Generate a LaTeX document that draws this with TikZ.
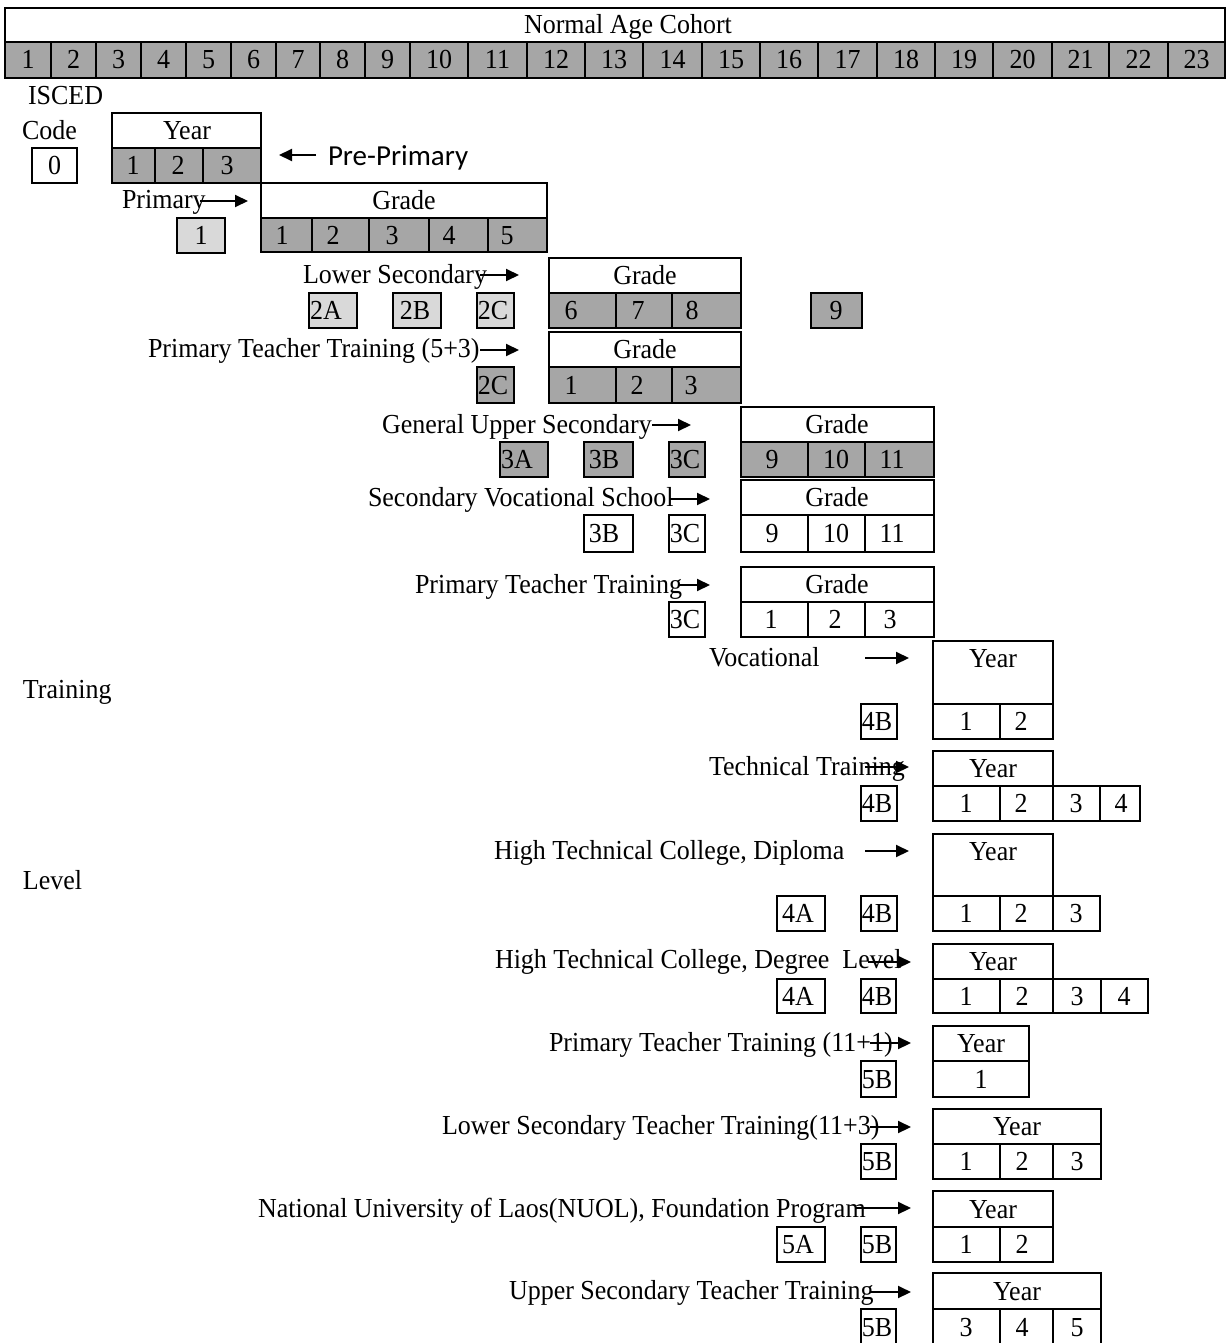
\documentclass[tikz,border=0pt]{standalone}
\usepackage{fontspec}
\setmainfont{Liberation Serif}[FakeStretch=0.945]
\newfontfamily\calibfont{Carlito}
\usetikzlibrary{arrows.meta}
\definecolor{dkg}{HTML}{A6A6A6}
\definecolor{ltg}{HTML}{D9D9D9}
% name, x1, y1, x2, y2, fill style, text, text centre x, raise of baseline from box centre
\newcommand\bx[9]{%
  \node[cellbox,#6,minimum width={#4pt-#2pt},minimum height={#5pt-#3pt},anchor=north west] (#1) at (#2,#3)
  {\makebox[\dimexpr#4pt-#2pt\relax][l]{\hspace*{\dimexpr#8pt-#2pt\relax}\makebox[0pt][c]{\raisebox{#9pt}[0pt][0pt]{#7}}}};}
\begin{document}
\begin{tikzpicture}[x=1pt,y=-1pt,
  every node/.style={font=\fontsize{27.5}{31}\selectfont,inner sep=0pt,outer sep=0pt},
  cellbox/.style={draw=black,line width=1.6pt},
  dkfill/.style={fill=dkg},
  ltfill/.style={fill=ltg},
  wtfill/.style={fill=white},
  lbl/.style={anchor=base west},
  arr/.style={line width=2pt,-{Triangle[length=13pt,width=12pt]}}]
\fill[white] (0,0) rectangle (1226,1343);
\useasboundingbox (0,0) rectangle (1226,1343);

% ---- top bar
\bx{hdr}{5}{8}{1225}{42}{wtfill}{Normal Age Cohort}{628}{-9}
\foreach \ii/\xa/\xb/\xc in {1/5/51/28,2/51/96/73.5,3/96/141/118.5,4/141/186/163.5,5/186/231/208.5,
  6/231/276/253.5,7/276/320/298,8/320/365/342.5,9/365/410/387.5,10/410/468/439,11/468/527/497.5,
  12/527/585/556,13/585/643/614,14/643/702/672.5,15/702/760/731,16/760/818/789,17/818/877/847.5,
  18/877/935/906,19/935/993/964,20/993/1052/1022.5,21/1052/1109/1080.5,22/1109/1168/1138.5,
  23/1168/1225/1196.5}
  {\bx{age\ii}{\xa}{42}{\xb}{78}{dkfill}{\ii}{\xc}{-9}}

% ---- left labels
\node[lbl] (tisced) at (28,105) {ISCED};
\node[lbl] (tcode) at (22,140) {Code};
\node[lbl] (ttraining) at (23,698) {Training};
\node[lbl] (tlevel) at (23,889) {Level};

% ---- pre-primary
\bx{zero}{32}{148}{77}{183}{wtfill}{0}{54.5}{-9}
\bx{yhdr0}{112}{113}{261}{148}{wtfill}{Year}{187}{-9}
\bx{y0a}{112}{148}{155}{183}{dkfill}{1}{133}{-9}
\bx{y0b}{155}{148}{203}{183}{dkfill}{2}{178}{-9}
\bx{y0c}{203}{148}{261}{183}{dkfill}{3}{227}{-9}
\node[lbl,font=\calibfont\fontsize{29}{33}\selectfont] (tpre) at (328,166) {Pre-Primary};
\coordinate (apre1) at (316,155); \coordinate (apre2) at (279,155);
\draw[arr] (apre1) -- (apre2);

% ---- primary
\node[lbl] (tprim) at (122,208) {Primary};
\coordinate (aprim1) at (200,201); \coordinate (aprim2) at (248,201);
\draw[arr] (aprim1) -- (aprim2);
\bx{cprim}{177}{218}{225}{253}{ltfill}{1}{201}{-9}
\bx{ghdr1}{261}{183}{547}{218}{wtfill}{Grade}{404}{-9}
\bx{g1a}{261}{218}{312}{252}{dkfill}{1}{282}{-9}
\bx{g1b}{312}{218}{369}{252}{dkfill}{2}{333}{-9}
\bx{g1c}{369}{218}{429}{252}{dkfill}{3}{392}{-9}
\bx{g1d}{429}{218}{488}{252}{dkfill}{4}{449}{-9}
\bx{g1e}{488}{218}{547}{252}{dkfill}{5}{507}{-9}

% ---- lower secondary
\node[lbl] (tlsec) at (303,283) {Lower Secondary};
\coordinate (alsec1) at (480,275); \coordinate (alsec2) at (519,275);
\draw[arr] (alsec1) -- (alsec2);
\bx{ghdr2}{549}{258}{741}{293}{wtfill}{Grade}{645}{-9}
\bx{g2a}{549}{293}{616}{328}{dkfill}{6}{571}{-9}
\bx{g2b}{616}{293}{672}{328}{dkfill}{7}{638}{-9}
\bx{g2c}{672}{293}{741}{328}{dkfill}{8}{692}{-9}
\bx{g2d}{811}{293}{862}{328}{dkfill}{9}{836}{-9}
\bx{c2A}{309}{293}{357}{328}{ltfill}{2A}{326}{-9}
\bx{c2B}{393}{293}{441}{328}{ltfill}{2B}{415}{-9}
\bx{c2C}{477}{293}{514}{328}{ltfill}{2C}{493}{-9}

% ---- primary teacher training (5+3)
\node[lbl] (tptta) at (148,357) {Primary Teacher Training (5+3)};
\coordinate (aptta1) at (480,350); \coordinate (aptta2) at (519,350);
\draw[arr] (aptta1) -- (aptta2);
\bx{ghdr3}{549}{332}{741}{367}{wtfill}{Grade}{645}{-9}
\bx{g3a}{549}{367}{616}{403}{dkfill}{1}{571}{-9}
\bx{g3b}{616}{367}{672}{403}{dkfill}{2}{637}{-9}
\bx{g3c}{672}{367}{741}{403}{dkfill}{3}{691}{-9}
\bx{c2Cb}{477}{367}{514}{403}{dkfill}{2C}{493}{-9}

% ---- general upper secondary
\node[lbl] (tgus) at (382,433) {General Upper Secondary};
\coordinate (agus1) at (652,425); \coordinate (agus2) at (691,425);
\draw[arr] (agus1) -- (agus2);
\bx{ghdr4}{741}{407}{934}{442}{wtfill}{Grade}{837}{-9}
\bx{g4a}{741}{442}{808}{477}{dkfill}{9}{772}{-9}
\bx{g4b}{808}{442}{865}{477}{dkfill}{10}{836}{-9}
\bx{g4c}{865}{442}{934}{477}{dkfill}{11}{892}{-9}
\bx{c3A}{500}{442}{548}{477}{dkfill}{3A}{517}{-9}
\bx{c3B}{584}{442}{633}{477}{dkfill}{3B}{604}{-9}
\bx{c3C}{669}{442}{705}{477}{dkfill}{3C}{685}{-9}

% ---- secondary vocational school
\node[lbl] (tsvs) at (368,506) {Secondary Vocational School};
\coordinate (asvs1) at (670,499); \coordinate (asvs2) at (710,499);
\draw[arr] (asvs1) -- (asvs2);
\bx{ghdr5}{741}{480}{934}{515}{wtfill}{Grade}{837}{-9}
\bx{g5a}{741}{515}{808}{552}{wtfill}{9}{772}{-9}
\bx{g5b}{808}{515}{865}{552}{wtfill}{10}{836}{-9}
\bx{g5c}{865}{515}{934}{552}{wtfill}{11}{892}{-9}
\bx{c3Bb}{584}{515}{633}{552}{wtfill}{3B}{604}{-9}
\bx{c3Cb}{669}{515}{705}{552}{wtfill}{3C}{685}{-9}

% ---- primary teacher training
\node[lbl] (tpttb) at (415,593) {Primary Teacher Training};
\coordinate (apttb1) at (678,585); \coordinate (apttb2) at (710,585);
\draw[arr] (apttb1) -- (apttb2);
\bx{ghdr6}{741}{567}{934}{602}{wtfill}{Grade}{837}{-9}
\bx{g6a}{741}{602}{808}{637}{wtfill}{1}{771}{-9}
\bx{g6b}{808}{602}{865}{637}{wtfill}{2}{835}{-9}
\bx{g6c}{865}{602}{934}{637}{wtfill}{3}{890}{-9}
\bx{c3Cc}{669}{602}{705}{637}{wtfill}{3C}{685}{-9}

% ---- vocational
\node[lbl] (tvoc) at (709,666) {Vocational};
\coordinate (avoc1) at (865,658); \coordinate (avoc2) at (909,658);
\draw[arr] (avoc1) -- (avoc2);
\bx{yhdr7}{933}{641}{1053}{704}{wtfill}{Year}{993}{5}
\bx{y7a}{933}{704}{1000}{739}{wtfill}{1}{966}{-9}
\bx{y7b}{1000}{704}{1053}{739}{wtfill}{2}{1021}{-9}
\bx{c4B}{861}{704}{897}{739}{wtfill}{4B}{877}{-9}

% ---- technical training
\node[lbl] (ttech) at (709,775) {Technical Training};
\coordinate (atech1) at (865,767); \coordinate (atech2) at (909,767);
\draw[arr] (atech1) -- (atech2);
\bx{yhdr8}{933}{751}{1053}{786}{wtfill}{Year}{993}{-9}
\bx{y8a}{933}{786}{1000}{821}{wtfill}{1}{966}{-9}
\bx{y8b}{1000}{786}{1053}{821}{wtfill}{2}{1021}{-9}
\bx{y8c}{1053}{786}{1100}{821}{wtfill}{3}{1076}{-9}
\bx{y8d}{1100}{786}{1140}{821}{wtfill}{4}{1121}{-9}
\bx{c4Bb}{861}{786}{897}{821}{wtfill}{4B}{877}{-9}

% ---- high technical college, diploma
\node[lbl] (thtcd) at (494,859) {High Technical College, Diploma};
\coordinate (ahtcd1) at (865,851); \coordinate (ahtcd2) at (909,851);
\draw[arr] (ahtcd1) -- (ahtcd2);
\bx{yhdr9}{933}{834}{1053}{896}{wtfill}{Year}{993}{5}
\bx{y9a}{933}{896}{1000}{931}{wtfill}{1}{966}{-9}
\bx{y9b}{1000}{896}{1053}{931}{wtfill}{2}{1021}{-9}
\bx{y9c}{1053}{896}{1100}{931}{wtfill}{3}{1076}{-9}
\bx{c4A}{777}{896}{825}{931}{wtfill}{4A}{798}{-9}
\bx{c4Bc}{861}{896}{897}{931}{wtfill}{4B}{877}{-9}

% ---- high technical college, degree level
\node[lbl] (thtcg) at (495,968) {High Technical College, Degree\ \ Level};
\coordinate (ahtcg1) at (868,962); \coordinate (ahtcg2) at (911,962);
\draw[arr] (ahtcg1) -- (ahtcg2);
\bx{yhdr10}{933}{944}{1053}{979}{wtfill}{Year}{993}{-9}
\bx{y10a}{933}{979}{1000}{1013}{wtfill}{1}{966}{-9}
\bx{y10b}{1000}{979}{1053}{1013}{wtfill}{2}{1022}{-9}
\bx{y10c}{1053}{979}{1101}{1013}{wtfill}{3}{1077}{-9}
\bx{y10d}{1101}{979}{1148}{1013}{wtfill}{4}{1124}{-9}
\bx{c4Ab}{777}{979}{825}{1013}{wtfill}{4A}{798}{-9}
\bx{c4Bd}{861}{979}{896}{1013}{wtfill}{4B}{877}{-9}

% ---- primary teacher training (11+1)
\node[lbl] (tpttc) at (549,1051) {Primary Teacher Training (11+1)};
\coordinate (apttc1) at (870,1043); \coordinate (apttc2) at (911,1043);
\draw[arr] (apttc1) -- (apttc2);
\bx{yhdr11}{933}{1026}{1029}{1061}{wtfill}{Year}{981}{-9}
\bx{y11a}{933}{1061}{1029}{1097}{wtfill}{1}{981}{-9}
\bx{c5B}{861}{1061}{896}{1097}{wtfill}{5B}{877}{-9}

% ---- lower secondary teacher training (11+3)
\node[lbl] (tlstt) at (442,1134) {Lower Secondary Teacher Training(11+3)};
\coordinate (alstt1) at (870,1127); \coordinate (alstt2) at (911,1127);
\draw[arr] (alstt1) -- (alstt2);
\bx{yhdr12}{933}{1109}{1101}{1144}{wtfill}{Year}{1017}{-9}
\bx{y12a}{933}{1144}{1000}{1179}{wtfill}{1}{966}{-9}
\bx{y12b}{1000}{1144}{1053}{1179}{wtfill}{2}{1022}{-9}
\bx{y12c}{1053}{1144}{1101}{1179}{wtfill}{3}{1077}{-9}
\bx{c5Bb}{861}{1144}{896}{1179}{wtfill}{5B}{877}{-9}

% ---- NUOL foundation
\node[lbl] (tnuol) at (258,1217) {National University of Laos(NUOL), Foundation Program};
\coordinate (anuol1) at (856,1208); \coordinate (anuol2) at (911,1208);
\draw[arr] (anuol1) -- (anuol2);
\bx{yhdr13}{933}{1191}{1053}{1227}{wtfill}{Year}{993}{-9}
\bx{y13a}{933}{1227}{1000}{1262}{wtfill}{1}{966}{-9}
\bx{y13b}{1000}{1227}{1053}{1262}{wtfill}{2}{1022}{-9}
\bx{c5A}{777}{1227}{825}{1262}{wtfill}{5A}{798}{-9}
\bx{c5Bc}{861}{1227}{896}{1262}{wtfill}{5B}{877}{-9}

% ---- upper secondary teacher training
\node[lbl] (tustt) at (509,1299) {Upper Secondary Teacher Training};
\coordinate (austt1) at (870,1292); \coordinate (austt2) at (911,1292);
\draw[arr] (austt1) -- (austt2);
\bx{yhdr14}{933}{1273}{1101}{1309}{wtfill}{Year}{1017}{-9}
\bx{y14a}{933}{1309}{1000}{1345}{wtfill}{3}{966}{-9}
\bx{y14b}{1000}{1309}{1053}{1345}{wtfill}{4}{1022}{-9}
\bx{y14c}{1053}{1309}{1101}{1345}{wtfill}{5}{1077}{-9}
\bx{c5Bd}{861}{1309}{896}{1345}{wtfill}{5B}{877}{-9}
\end{tikzpicture}
\end{document}
